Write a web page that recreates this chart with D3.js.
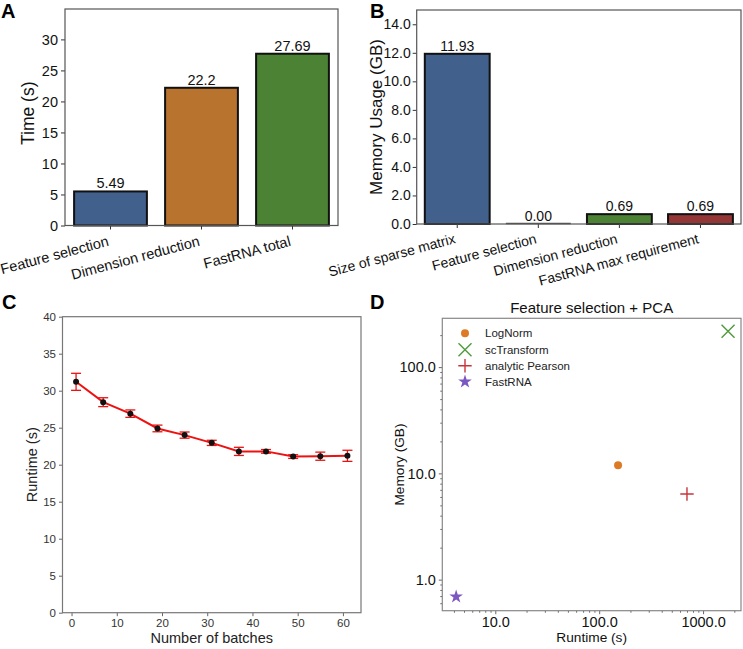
<!DOCTYPE html>
<html><head><meta charset="utf-8">
<script src="https://cdn.jsdelivr.net/npm/d3@7"></script>
<style>
body{margin:0;background:#fff}
svg{display:block;font-family:"Liberation Sans",Arial,Helvetica,sans-serif}
</style>
</head><body>
<svg id="chart" width="743" height="649"></svg>
<script>
// ---------- data ----------
const catsA = ["Feature selection", "Dimension reduction", "FastRNA total"];
const timeA = [5.49, 22.2, 27.69];
const labelsA = ["5.49", "22.2", "27.69"];
const ticksA = [0, 5, 10, 15, 20, 25, 30];

const catsB = ["Size of sparse matrix", "Feature selection", "Dimension reduction", "FastRNA max requirement"];
const memB = [11.93, 0.00, 0.69, 0.69];
const labelsB = ["11.93", "0.00", "0.69", "0.69"];
const ticksB = [0, 2, 4, 6, 8, 10, 12, 14];

const batches = [1, 7, 13, 19, 25, 31, 37, 43, 49, 55, 61];
const runtimeC = [31.2, 28.45, 26.9, 24.9, 24.0, 22.95, 21.8, 21.8, 21.1, 21.15, 21.2];
const errC = [1.15, 0.6, 0.5, 0.45, 0.42, 0.35, 0.55, 0.25, 0.25, 0.55, 0.75];
const ticksCx = [0, 10, 20, 30, 40, 50, 60];
const ticksCy = [0, 5, 10, 15, 20, 25, 30, 35, 40];

const methodsD = ["LogNorm", "scTransform", "analytic Pearson", "FastRNA"];
const runtimeD = [152, 1740, 700, 4.2];
const memoryD = [11.9, 217, 6.4, 0.69];
const ticksDx = [10, 100, 1000];
const ticksDy = [1, 10, 100];

// ---------- styles ----------
const colorsA = ["#41608c", "#b8732f", "#4b8234"];
const colorsB = ["#41608c", "#b8732f", "#4b8234", "#943536"];
const colorsD = ["#dd7a26", "#4f9a3c", "#c8343a", "#7d57c1"];

const svg = d3.select("#chart");

function frame(g, x0, x1, y0, y1, col) {
  g.append("rect").attr("x", x0).attr("y", y0).attr("width", x1 - x0).attr("height", y1 - y0)
    .attr("fill", "none").attr("stroke", col).attr("stroke-width", 1.2);
}
function styleAxis(sel, size, col) {
  sel.select(".domain").remove();
  sel.selectAll("line").attr("stroke", col);
  sel.selectAll("text").attr("font-size", size).attr("fill", "#111")
     .attr("font-family", '"Liberation Sans",Arial,sans-serif');
}
function letter(x, y, t) {
  svg.append("text").attr("x", x).attr("y", y).attr("font-size", 20).attr("font-weight", "bold").text(t);
}

// ---------- Panel A ----------
{
  const L = 65, R = 338, T = 9, B = 225.5;
  const x = d3.scaleBand().domain(catsA).range([L, R]).paddingInner(0.2).paddingOuter(0.1);
  const y = d3.scaleLinear().domain([0, 34.9]).range([B, T]);
  const g = svg.append("g");
  g.selectAll("rect.bar").data(catsA).join("rect").attr("class", "bar")
    .attr("x", d => x(d)).attr("y", (d, i) => y(timeA[i]))
    .attr("width", x.bandwidth()).attr("height", (d, i) => y(0) - y(timeA[i]))
    .attr("fill", (d, i) => colorsA[i]).attr("stroke", "#111").attr("stroke-width", 2);
  g.selectAll("text.val").data(catsA).join("text").attr("class", "val")
    .attr("x", d => x(d) + x.bandwidth() / 2).attr("y", (d, i) => y(timeA[i]) - 3)
    .attr("text-anchor", "middle").attr("font-size", 14.5).attr("fill", "#111")
    .text((d, i) => labelsA[i]);
  const ya = g.append("g").attr("transform", `translate(${L},0)`)
    .call(d3.axisLeft(y).tickValues(ticksA).tickSize(4).tickPadding(3));
  styleAxis(ya, 14.5, "#333");
  const xa = g.append("g").attr("transform", `translate(0,${B})`)
    .call(d3.axisBottom(x).tickSize(4).tickFormat(""));
  styleAxis(xa, 14.5, "#333");
  g.selectAll("text.xl").data(catsA).join("text").attr("class", "xl")
    .attr("transform", d => `translate(${x(d) + x.bandwidth() / 2 - 1},${B + 20}) rotate(-15)`)
    .attr("text-anchor", "end").attr("font-size", 14.5).attr("fill", "#111").text(d => d);
  frame(g, L, R, T, B, "#555");
  g.append("text").attr("transform", `translate(34,${(T + B) / 2 - 4}) rotate(-90)`)
    .attr("text-anchor", "middle").attr("font-size", 17.5).attr("fill", "#111").text("Time (s)");
  letter(1, 18, "A");
}

// ---------- Panel B ----------
{
  const L = 416.7, R = 741, T = 10, B = 224;
  const x = d3.scaleBand().domain(catsB).range([L, R]).paddingInner(0.2).paddingOuter(0.1);
  const y = d3.scaleLinear().domain([0, 15]).range([B, T]);
  const g = svg.append("g");
  g.selectAll("rect.bar").data(catsB).join("rect").attr("class", "bar")
    .attr("x", d => x(d)).attr("y", (d, i) => y(memB[i]))
    .attr("width", x.bandwidth()).attr("height", (d, i) => y(0) - y(memB[i]))
    .attr("fill", (d, i) => colorsB[i]).attr("stroke", "#111").attr("stroke-width", 2);
  // zero-height bars still show their edge as a thin line
  g.selectAll("line.zero").data(catsB.filter((d, i) => memB[i] === 0)).join("line").attr("class", "zero")
    .attr("x1", d => x(d)).attr("x2", d => x(d) + x.bandwidth())
    .attr("y1", y(0) - 0.5).attr("y2", y(0) - 0.5).attr("stroke", "#555").attr("stroke-width", 1.5);
  g.selectAll("text.val").data(catsB).join("text").attr("class", "val")
    .attr("x", d => x(d) + x.bandwidth() / 2).attr("y", (d, i) => y(memB[i]) - 3)
    .attr("text-anchor", "middle").attr("font-size", 14).attr("fill", "#111")
    .text((d, i) => labelsB[i]);
  const ya = g.append("g").attr("transform", `translate(${L},0)`)
    .call(d3.axisLeft(y).tickValues(ticksB).tickSize(4).tickPadding(2).tickFormat(d3.format(".1f")));
  styleAxis(ya, 14, "#333");
  const xa = g.append("g").attr("transform", `translate(0,${B})`)
    .call(d3.axisBottom(x).tickSize(4).tickFormat(""));
  styleAxis(xa, 14, "#333");
  g.selectAll("text.xl").data(catsB).join("text").attr("class", "xl")
    .attr("transform", d => `translate(${x(d) + x.bandwidth() / 2 - 1},${B + 19}) rotate(-15)`)
    .attr("text-anchor", "end").attr("font-size", 14).attr("fill", "#111").text(d => d);
  frame(g, L, R, T, B, "#555");
  g.append("text").attr("transform", `translate(382,${(T + B) / 2}) rotate(-90)`)
    .attr("text-anchor", "middle").attr("font-size", 17).attr("fill", "#111").text("Memory Usage (GB)");
  letter(370, 18, "B");
}

// ---------- Panel C ----------
{
  const L = 62.5, R = 361, T = 316.7, B = 612.7;
  const x = d3.scaleLinear().domain([-2, 64]).range([L, R]);
  const y = d3.scaleLinear().domain([0, 40]).range([B, T]);
  const g = svg.append("g");
  const ya = g.append("g").attr("transform", `translate(${L},0)`)
    .call(d3.axisLeft(y).tickValues(ticksCy).tickSize(3.5).tickPadding(3));
  styleAxis(ya, 11.5, "#666");
  ya.selectAll("text").attr("fill", "#333");
  const xa = g.append("g").attr("transform", `translate(0,${B})`)
    .call(d3.axisBottom(x).tickValues(ticksCx).tickSize(3.5).tickPadding(3));
  styleAxis(xa, 11.5, "#666");
  xa.selectAll("text").attr("fill", "#333");
  frame(g, L, R, T, B, "#777");
  const pts = batches.map((b, i) => [b, runtimeC[i], errC[i]]);
  g.append("path").datum(pts).attr("fill", "none").attr("stroke", "#ee1111").attr("stroke-width", 2)
    .attr("d", d3.line().x(d => x(d[0])).y(d => y(d[1])));
  const eb = g.selectAll("g.eb").data(pts).join("g").attr("class", "eb")
    .attr("stroke", "#ee1111").attr("stroke-width", 1.3);
  eb.append("line").attr("x1", d => x(d[0])).attr("x2", d => x(d[0]))
    .attr("y1", d => y(d[1] - d[2])).attr("y2", d => y(d[1] + d[2]));
  eb.append("line").attr("x1", d => x(d[0]) - 5).attr("x2", d => x(d[0]) + 5)
    .attr("y1", d => y(d[1] + d[2])).attr("y2", d => y(d[1] + d[2]));
  eb.append("line").attr("x1", d => x(d[0]) - 5).attr("x2", d => x(d[0]) + 5)
    .attr("y1", d => y(d[1] - d[2])).attr("y2", d => y(d[1] - d[2]));
  g.selectAll("circle").data(pts).join("circle").attr("cx", d => x(d[0])).attr("cy", d => y(d[1]))
    .attr("r", 3).attr("fill", "#111");
  g.append("text").attr("transform", `translate(37,${(T + B) / 2}) rotate(-90)`)
    .attr("text-anchor", "middle").attr("font-size", 14.5).attr("fill", "#222").text("Runtime (s)");
  g.append("text").attr("x", (L + R) / 2).attr("y", 643).attr("text-anchor", "middle")
    .attr("font-size", 14.5).attr("fill", "#222").text("Number of batches");
  letter(2, 309, "C");
}

// ---------- Panel D ----------
{
  const L = 442.3, R = 741, T = 318.3, B = 610.7;
  const x = d3.scaleLog().domain([3.09, 2318]).range([L, R]);
  const y = d3.scaleLog().domain([0.51, 288]).range([B, T]);
  const g = svg.append("g");
  const minorX = [], minorY = [];
  [1, 10, 100, 1000].forEach(p => { for (let k = 2; k <= 9; k++) { const v = p * k; if (v >= 3.09 && v <= 2318) minorX.push(v); } });
  [0.1, 1, 10, 100].forEach(p => { for (let k = 2; k <= 9; k++) { const v = p * k; if (v >= 0.51 && v <= 288) minorY.push(v); } });
  const yaM = g.append("g").attr("transform", `translate(${L},0)`)
    .call(d3.axisLeft(y).tickValues(minorY).tickSize(2).tickFormat(""));
  styleAxis(yaM, 10, "#666");
  const xaM = g.append("g").attr("transform", `translate(0,${B})`)
    .call(d3.axisBottom(x).tickValues(minorX).tickSize(2).tickFormat(""));
  styleAxis(xaM, 10, "#666");
  const ya = g.append("g").attr("transform", `translate(${L},0)`)
    .call(d3.axisLeft(y).tickValues(ticksDy).tickSize(3.5).tickPadding(3).tickFormat(d3.format(".1f")));
  styleAxis(ya, 14.5, "#666");
  const xa = g.append("g").attr("transform", `translate(0,${B})`)
    .call(d3.axisBottom(x).tickValues(ticksDx).tickSize(3.5).tickPadding(3).tickFormat(d3.format(".1f")));
  styleAxis(xa, 14.5, "#666");
  frame(g, L, R, T, B, "#888");

  function marker(sel, i, cx, cy) {
    const c = colorsD[i];
    if (i === 0) sel.append("circle").attr("cx", cx).attr("cy", cy).attr("r", 4).attr("fill", c);
    else if (i === 1) {
      sel.append("path").attr("d", `M${cx - 6.5},${cy - 6.5}L${cx + 6.5},${cy + 6.5}M${cx - 6.5},${cy + 6.5}L${cx + 6.5},${cy - 6.5}`)
        .attr("stroke", c).attr("stroke-width", 1.4).attr("fill", "none");
    } else if (i === 2) {
      sel.append("path").attr("d", `M${cx - 6.7},${cy}L${cx + 6.7},${cy}M${cx},${cy - 6.7}L${cx},${cy + 6.7}`)
        .attr("stroke", c).attr("stroke-width", 1.4).attr("fill", "none");
    } else {
      sel.append("path").attr("d", d3.symbol(d3.symbolStar).size(58)())
        .attr("transform", `translate(${cx},${cy})`).attr("fill", c);
    }
  }
  methodsD.forEach((m, i) => marker(g, i, x(runtimeD[i]), y(memoryD[i])));

  // legend
  const ly = [333.3, 349.7, 365.7, 381.7];
  methodsD.forEach((m, i) => {
    marker(g, i, 465, ly[i]);
    g.append("text").attr("x", 485).attr("y", ly[i] + 4).attr("font-size", 11.5).attr("fill", "#222").text(m);
  });

  g.append("text").attr("x", (L + R) / 2).attr("y", 313).attr("text-anchor", "middle")
    .attr("font-size", 15).attr("fill", "#111").text("Feature selection + PCA");
  g.append("text").attr("transform", `translate(404,${(T + B) / 2}) rotate(-90)`)
    .attr("text-anchor", "middle").attr("font-size", 13.7).attr("fill", "#111").text("Memory (GB)");
  g.append("text").attr("x", (L + R) / 2).attr("y", 642).attr("text-anchor", "middle")
    .attr("font-size", 13.7).attr("fill", "#111").text("Runtime (s)");
  letter(370, 309, "D");
}
</script>
</body></html>
